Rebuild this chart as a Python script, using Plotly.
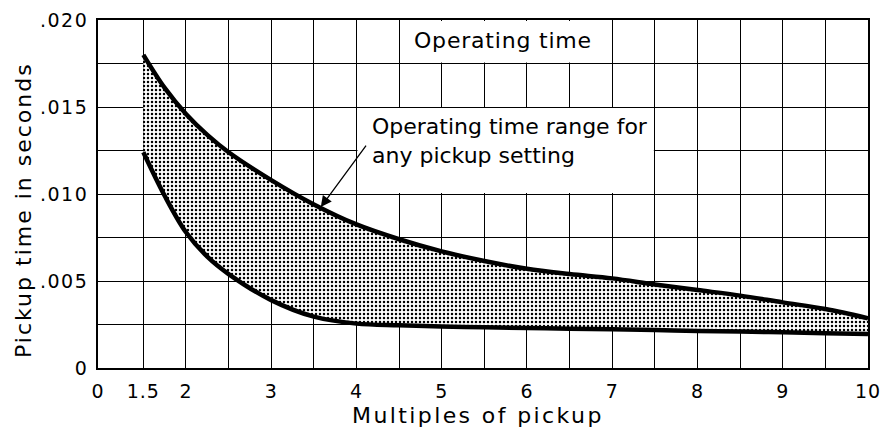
import plotly.graph_objects as go

# ---------------- data ----------------
MULTIPLES = [1.5, 1.75, 2, 2.25, 2.5, 3, 3.5, 4, 4.5, 5, 5.5, 6, 6.5, 7, 7.5, 8, 8.5, 9, 9.5, 10]
UPPER_TIME = [0.0180, 0.0161, 0.0146, 0.0134, 0.0124, 0.0108, 0.0094, 0.00825, 0.0074, 0.0067,
              0.00615, 0.0057, 0.0054, 0.00515, 0.0048, 0.00448, 0.00416, 0.00377,
              0.00339, 0.00286]
LOWER_TIME = [0.0124, 0.0099, 0.0078, 0.0064, 0.0054, 0.0039, 0.00295, 0.00255, 0.00245, 0.00238,
              0.00234, 0.0023, 0.00225, 0.00222, 0.00218, 0.00213, 0.0021, 0.00205,
              0.0020, 0.00195]

X_TICK_VALUES = [0, 1.5, 2, 2.5, 3, 3.5, 4, 4.5, 5, 5.5, 6, 6.5, 7, 7.5, 8, 8.5, 9, 9.5, 10]
X_TICK_LABELS = ["0", "1.5", "2", "", "3", "", "4", "", "5", "", "6", "", "7", "", "8", "", "9", "", "10"]
Y_TICK_VALUES = [0, 0.0025, 0.005, 0.0075, 0.010, 0.0125, 0.015, 0.0175, 0.020]
Y_TICK_LABELS = ["0", "", ".005", "", ".010", "", ".015", "", ".020"]

X_TITLE = "Multiples of pickup"
Y_TITLE = "Pickup time in seconds"
LABEL_TOP = "Operating time"
LABEL_RANGE = "Operating time range for<br>any pickup setting"

# broken x axis: 0 .. 1.5 is compressed into a short gap
X_ZERO_POS = -0.032


def axis_pos(v):
    return v - 1.0 if v > 0 else X_ZERO_POS


def spaced(t, px):
    return '<span style="letter-spacing:%spx">%s</span>' % (px, t) if t else ""


FONT = "DejaVu Sans"
xa = [axis_pos(v) for v in MULTIPLES]

fig = go.Figure()
fig.add_trace(go.Scatter(
    x=xa, y=LOWER_TIME, mode="lines",
    line=dict(color="black", width=4.5, shape="spline", smoothing=1.0),
    showlegend=False, hoverinfo="skip"))
fig.add_trace(go.Scatter(
    x=xa, y=UPPER_TIME, mode="lines",
    line=dict(color="black", width=4.5, shape="spline", smoothing=1.0),
    fill="tonexty", fillcolor="white",
    fillpattern=dict(shape=".", size=4, solidity=0.3, fgcolor="black",
                     bgcolor="white", fillmode="replace"),
    showlegend=False, hoverinfo="skip"))

# white label boxes that interrupt the grid
dx = 0.012
dy = 0.00006
for (x0, x1, y0, y1) in [(4.5, 7.0, 0.0175, 0.020), (4.0, 7.5, 0.010, 0.015)]:
    fig.add_shape(type="rect", xref="x", yref="y",
                  x0=axis_pos(x0) + dx, x1=axis_pos(x1) - dx,
                  y0=y0 + dy, y1=y1 - dy,
                  fillcolor="white", line=dict(width=0), layer="between")

fig.add_annotation(x=axis_pos(5.72), y=0.01880, xref="x", yref="y", text=spaced(LABEL_TOP, 0.8),
                   showarrow=False, font=dict(family=FONT, size=22, color="black"),
                   xanchor="center", yanchor="middle")
fig.add_annotation(x=axis_pos(4.16), y=0.01305, xref="x", yref="y", text=LABEL_RANGE,
                   showarrow=False, align="left",
                   font=dict(family=FONT, size=22, color="black"),
                   xanchor="left", yanchor="middle")
# arrow pointing at the upper curve
fig.add_annotation(x=axis_pos(3.574), y=0.0092, xref="x", yref="y",
                   ax=axis_pos(4.125), ay=0.01287, axref="x", ayref="y",
                   text="", showarrow=True, arrowhead=2, arrowsize=1.7,
                   arrowwidth=1.3, arrowcolor="black", standoff=1)

# axis titles
fig.add_annotation(x=0.494, y=-0.136, xref="paper", yref="paper",
                   text=spaced(X_TITLE, 2.4),
                   showarrow=False, font=dict(family=FONT, size=22, color="black"),
                   xanchor="center", yanchor="middle")
fig.add_annotation(x=-0.0975, y=0.454, xref="paper", yref="paper",
                   text=spaced(Y_TITLE, 2),
                   textangle=-90, showarrow=False,
                   font=dict(family=FONT, size=22, color="black"),
                   xanchor="center", yanchor="middle")

axis_common = dict(showgrid=True, gridcolor="black", gridwidth=1.2,
                   showline=True, linecolor="black", linewidth=1.8, mirror=True,
                   ticks="", zeroline=False, automargin=False,
                   ticklabeloverflow="allow",
                   tickfont=dict(family=FONT, size=19, color="black"))

fig.update_xaxes(range=[X_ZERO_POS, 9], tickmode="array",
                 tickvals=[axis_pos(v) for v in X_TICK_VALUES],
                 ticktext=[spaced(t, 1) for t in X_TICK_LABELS],
                 ticklabelstandoff=5, **axis_common)
fig.update_yaxes(range=[0, 0.020], tickmode="array",
                 tickvals=Y_TICK_VALUES,
                 ticktext=[spaced(t, 1.5) for t in Y_TICK_LABELS],
                 ticklabelstandoff=4, **axis_common)

fig.update_layout(width=881, height=430, autosize=False,
                  margin=dict(l=98, r=13, t=20, b=62),
                  paper_bgcolor="white", plot_bgcolor="white",
                  font=dict(family=FONT, color="black"))

fig.write_html("out.html", config={"displayModeBar": False},
               post_script="document.body.style.margin='0';")
